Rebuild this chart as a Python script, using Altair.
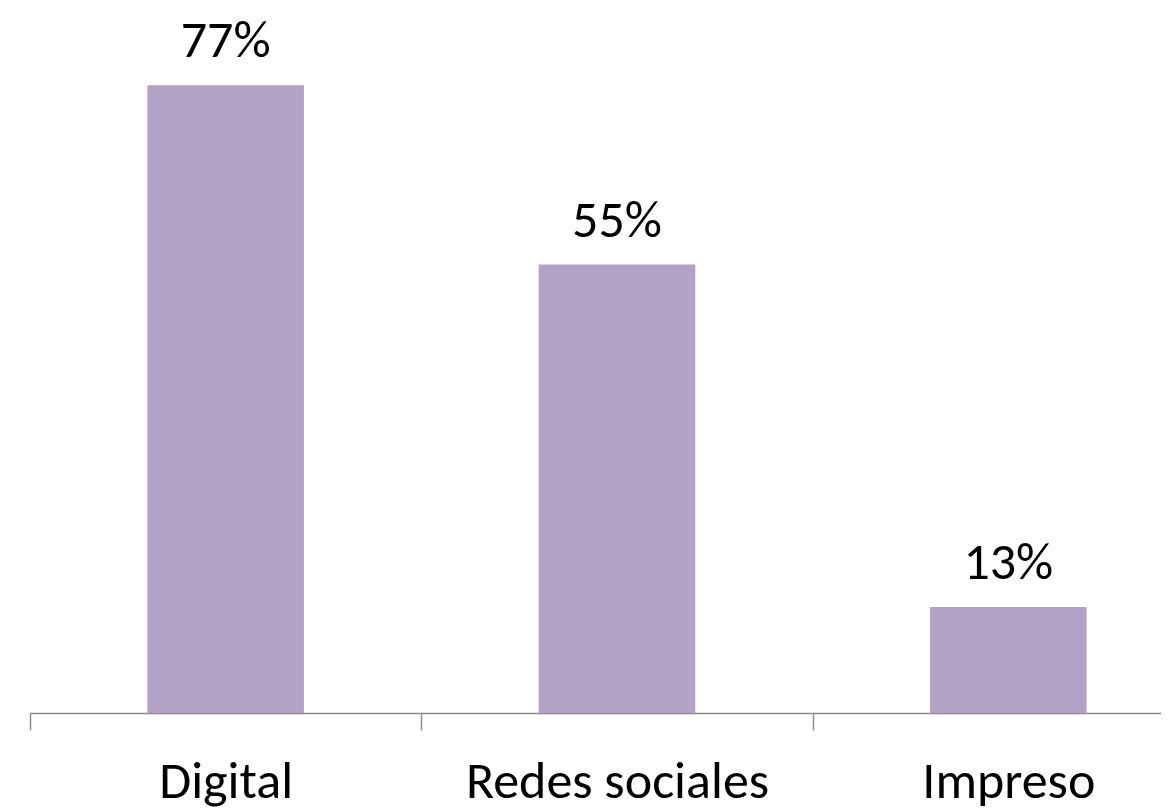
import altair as alt
import pandas as pd

categories = ["Digital", "Redes sociales", "Impreso"]
values = [77, 55, 13]
labels = ["77%", "55%", "13%"]

df = pd.DataFrame({"cat": categories, "val": values, "lab": labels})

FONT = "Carlito, Lato, sans-serif"
RANGE_END = 1174
STEP = RANGE_END / 3.0

x = alt.X(
    "cat:N",
    sort=categories,
    title=None,
    scale=alt.Scale(range=[0, RANGE_END], paddingInner=0.6, paddingOuter=0.3),
    axis=alt.Axis(
        labelAngle=0,
        labelFont=FONT,
        labelFontSize=52,
        labelColor="#000000",
        labelBaseline="alphabetic",
        labelPadding=67,
        labelLimit=0,
        tickSize=17,
        tickOffset=-STEP / 2,
        labelOffset=STEP / 2,
        tickColor="#8C8C8C",
        tickWidth=1.5,
        domainColor="#8C8C8C",
        domainWidth=1.5,
        grid=False,
    ),
)
y = alt.Y("val:Q", scale=alt.Scale(domain=[0, 85], nice=False), axis=None)

bars = alt.Chart(df).mark_bar(color="#B2A2C7").encode(x=x, y=y)
text = alt.Chart(df).mark_text(
    font=FONT, fontSize=52, color="#000000", baseline="alphabetic", dy=-28
).encode(x=x, y=y, text="lab:N")

chart = (
    alt.layer(bars, text)
    .properties(
        width=1131,
        height=693,
        padding={"left": 22, "top": 12, "right": 0, "bottom": 95},
        autosize=alt.AutoSizeParams(type="none"),
    )
    .configure_view(stroke=None)
)

chart.save("out.html", embed_options={"renderer": "svg", "actions": False})
